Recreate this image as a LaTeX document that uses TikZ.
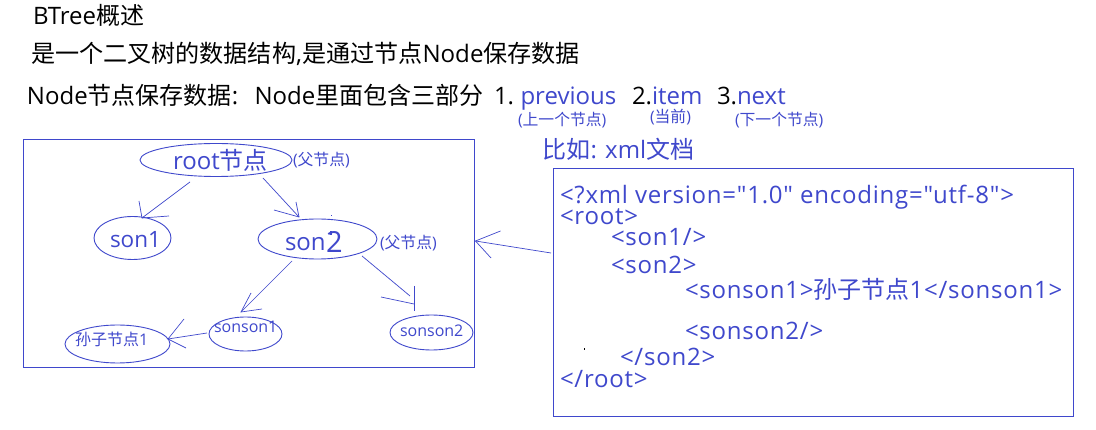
\documentclass[tikz,border=0pt]{standalone}
\usepackage{fontspec}
\setmainfont{Open Sans}[Ligatures=TeXOff]
\newfontfamily\cjk{Noto Sans CJK SC}
\usetikzlibrary{shapes.geometric,calc}
\definecolor{ink}{RGB}{63,72,204}
\newcommand{\zh}[1]{{\cjk #1}}
\newcommand{\fs}[1]{\fontsize{#1}{#1}\selectfont}
\tikzset{
  txt/.style={anchor=base west,inner sep=0pt,outer sep=0pt,text=black},
  blu/.style={txt,text=ink},
  big/.style={font=\fs{24}},
  mid/.style={font=\fs{15.8}},
  xml/.style={blu,font=\fs{24}\addfontfeature{LetterSpace=3.2}},
  oval/.style={draw=ink,ellipse,line width=0.9pt,inner sep=0pt},
  frame/.style={draw=ink,line width=1pt},
  conn/.style={draw=ink,line width=0.7pt,line join=miter},
}
\begin{document}
\begin{tikzpicture}[x=1pt,y=-1pt]
\useasboundingbox (0,0) rectangle (1096,430);
\fill[white] (0,0) rectangle (1096,430);

% heading lines
\node[txt,font=\fs{24}] (title) at (33,24.5) {BTree\zh{概述}};
\node[txt,font=\fs{24.1}] (l2) at (31,62.7) {\zh{是一个二叉树的数据结构},\zh{是通过节点}Node\zh{保存数据}};
\node[txt,big] (l3) at (27,104.7) {Node\zh{节点保存数据}:\ \ \,Node\zh{里面包含三部分}};
\node[txt,big] (n1) at (494,104.7) {1.};
\node[blu,big] (prev) at (520.5,104.7) {previous};
\node[txt,big] (n2) at (632,104.7) {2.};
\node[blu,big] (item) at (652,104.7) {item};
\node[txt,big] (n3) at (717,104.7) {3.};
\node[blu,big] (next) at (737,104.7) {next};
\node[blu,mid] (prevz) at (518,125.5) {(\zh{上一个节点})};
\node[blu,mid] (itemz) at (650,122.5) {(\zh{当前})};
\node[blu,mid] (nextz) at (735,125.5) {(\zh{下一个节点})};
\node[blu,big] (eg) at (542.5,158.5) {\zh{比如}: xml\zh{文档}};

% left frame
\node[frame,minimum width=451pt,minimum height=228pt,inner sep=0pt] (lbox) at (249,253.5) {};
\node[oval,minimum width=152pt,minimum height=33pt] (root) at (216,160) {};
\node[oval,minimum width=77pt,minimum height=43pt] (son1) at (132.5,238) {};
\node[oval,minimum width=119pt,minimum height=40pt] (son2) at (317.5,239) {};
\node[oval,minimum width=73pt,minimum height=34pt] (ss1) at (245.5,334) {};
\node[oval,minimum width=83pt,minimum height=35pt] (ss2) at (431.5,332.5) {};
\node[oval,minimum width=105pt,minimum height=38pt] (gc) at (117.5,344) {};

\node[blu,big] (troot) at (173,169.7) {root\zh{节点}};
\node[blu,font=\fs{22.5}] (tson1) at (110,247.5) {son1};
\node[blu,big] (tson2) at (285,250.5) {son};
\node[blu,font=\fs{29}] (tson2b) at (326,253) {2};
\node[blu,mid] (f1) at (293,166) {(\zh{父节点})};
\node[blu,mid] (f2) at (380,249) {(\zh{父节点})};
\node[blu,font=\fs{16}] (tss1) at (214,333) {sonson1};
\node[blu,font=\fs{16}] (tss2) at (400,337) {sonson2};
\node[blu,font=\fs{16}] (tgc) at (75,346) {\zh{孙子节点}1};
\fill[ink] (330.6,214.6) rectangle (331.6,215.6);
\fill[ink] (330,231.5) rectangle (331.5,235);

% xml frame
\node[frame,minimum width=520pt,minimum height=248pt,inner sep=0pt] (xbox) at (813.5,292.5) {};
\node[xml] (x1) at (560,203.7) {<?xml version="1.0" encoding="utf-8">};
\node[xml] (x2) at (560,224.7) {<root>};
\node[xml] (x3) at (611,245.7) {<son1/>};
\node[xml] (x4) at (611,273.7) {<son2>};
\node[xml] (x5) at (685,298.7) {<sonson1>\zh{孙子节点}1</sonson1>};
\node[xml] (x6) at (685,339.7) {<sonson2/>};
\node[xml] (x7) at (620,365.7) {</son2>};
\node[xml] (x8) at (560,387.7) {</root>};
\fill[black] (583.5,348.5) rectangle (585,349.7);

% connectors
\coordinate (t1) at ($(son1)+(9.5,-20)$);
\draw[conn] ($(root)+(-26,22)$) -- (t1);
\draw[conn] ($(t1)+(-3,-17)$) -- (t1) -- ($(t1)+(27,-2)$);
\coordinate (t2) at ($(son2)+(-18.5,-22)$);
\draw[conn] ($(root)+(47,18)$) -- (t2);
\draw[conn] ($(t2)+(-3,-15)$) -- (t2) -- ($(t2)+(-25,-7)$);
\coordinate (t3) at ($(ss1)+(-4.5,-22)$);
\draw[conn] ($(son2)+(-25.5,22)$) -- (t3);
\draw[conn] ($(t3)+(10,-19)$) -- (t3) -- ($(t3)+(21,-3)$);
\coordinate (t4) at ($(ss2)+(-17.5,-28.5)$);
\draw[conn] ($(son2)+(44.5,17)$) -- ($(t4)+(-4,-8)$);
\draw[conn] ($(t4)+(0,-18)$) -- ($(t4)+(0,7)$);
\draw[conn] ($(t4)+(-33,-7)$) -- (t4);
\coordinate (t5) at ($(gc)+(50.5,-5)$);
\draw[conn] ($(ss1)+(-38.5,-1)$) -- (t5);
\draw[conn] ($(t5)+(16,-20)$) -- (t5) -- ($(t5)+(18,9)$);
\coordinate (t6) at ($(lbox.east)+(0.5,-12.5)$);
\draw[conn] ($(xbox.west)+(-2,-39.5)$) -- (t6);
\draw[conn] ($(t6)+(25,-10)$) -- (t6) -- ($(t6)+(15.5,17)$);

\end{tikzpicture}
\end{document}
